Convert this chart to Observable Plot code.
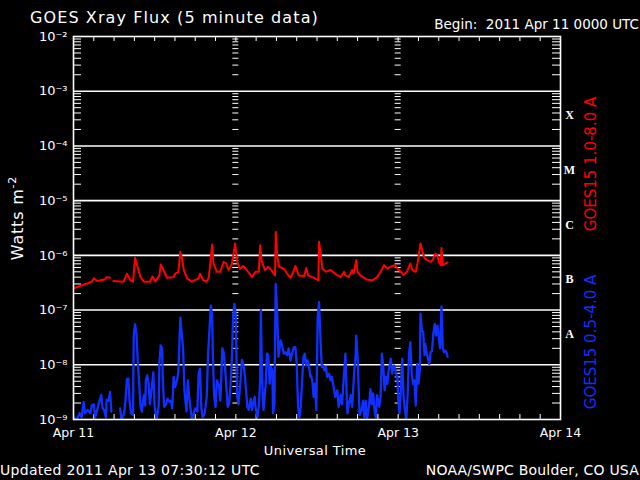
<!DOCTYPE html>
<html><head><meta charset="utf-8">
<script src="https://cdn.jsdelivr.net/npm/d3@7"></script>
<script src="https://cdn.jsdelivr.net/npm/@observablehq/plot@0.6"></script>
<style>html,body{margin:0;padding:0;background:#000;overflow:hidden} svg{display:block}</style>
</head><body><div id="chart"></div>
<script>
// Hours since 2011-04-11 00:00 UTC, flux in W m^-2 (null = data gap)
const redHours = [0.0,1.5,2.7,3.0,3.5,4.7,4.9,5.4,5.7,5.9,7.4,7.9,8.4,8.8,9.1,9.4,9.9,10.4,11.3,11.7,12.1,12.7,12.9,13.3,13.8,14.8,15.0,15.5,15.8,16.0,16.3,16.8,17.5,18.5,18.7,19.2,19.7,20.0,20.2,20.5,20.7,21.2,21.7,22.2,22.6,22.9,23.4,23.7,23.9,24.2,24.6,25.1,25.6,26.4,26.9,27.4,27.6,27.8,28.3,28.8,29.1,29.6,29.8,29.9,30.1,30.4,31.1,31.6,32.1,32.6,32.8,33.3,34.1,34.4,34.7,35.5,36.2,36.3,36.5,36.8,37.3,38.0,38.7,39.5,40.0,40.2,40.7,41.2,41.4,41.8,42.0,42.4,43.4,44.2,44.9,45.4,45.9,46.4,46.9,47.5,47.9,48.4,48.8,49.3,49.8,50.1,50.6,50.9,51.3,51.6,51.9,52.3,52.8,53.1,53.5,53.8,54.0,54.3,54.4,54.6,55.0,55.3];
const redFlux = [2.5e-7,2.9e-7,3.3e-7,3.8e-7,3.4e-7,3.65e-7,4.0e-7,3.9e-7,null,3.4e-7,3.3e-7,4.6e-7,3.5e-7,3.3e-7,9.0e-7,6.6e-7,4.0e-7,3.3e-7,3.3e-7,4.1e-7,3.3e-7,4.3e-7,6.8e-7,5.4e-7,3.9e-7,4.0e-7,4.6e-7,5.0e-7,1.16e-6,9.4e-7,5.4e-7,3.8e-7,3.3e-7,3.8e-7,4.6e-7,3.5e-7,3.3e-7,4.0e-7,6.6e-7,1.58e-6,7.1e-7,5.0e-7,5.0e-7,7.6e-7,7.1e-7,5.4e-7,6.8e-7,1.16e-6,1.64e-6,7.6e-7,5.7e-7,6.4e-7,5.4e-7,4.0e-7,5.0e-7,5.0e-7,1.53e-6,8.0e-7,5.4e-7,6.2e-7,5.7e-7,4.6e-7,4.3e-7,2.7e-6,1.0e-6,6.2e-7,5.7e-7,4.6e-7,3.9e-7,5.4e-7,6.4e-7,4.3e-7,4.2e-7,5.9e-7,4.3e-7,3.9e-7,3.5e-7,1.77e-6,1.2e-6,5.7e-7,5.0e-7,5.4e-7,4.6e-7,4.0e-7,5.0e-7,4.3e-7,4.0e-7,5.4e-7,4.6e-7,8.2e-7,5.0e-7,4.3e-7,3.6e-7,3.5e-7,4.0e-7,5.0e-7,6.6e-7,5.7e-7,6.2e-7,6.6e-7,5.7e-7,5.0e-7,4.4e-7,5.0e-7,7.1e-7,5.4e-7,5.0e-7,7.6e-7,1.64e-6,1.16e-6,8.8e-7,8.2e-7,7.6e-7,8.2e-7,1.08e-6,1.0e-6,7.6e-7,6.6e-7,1.37e-6,6.6e-7,7.1e-7,7.4e-7];

const blueHours = [0.0,0.5,0.9,1.2,1.5,1.7,2.1,2.5,2.7,3.0,3.2,3.5,3.8,4.1,4.3,4.5,4.8,4.9,5.2,5.4,5.6,6.0,6.9,7.1,7.5,7.7,7.9,8.1,8.3,8.5,8.8,8.9,9.1,9.3,9.5,9.7,9.9,10.1,10.4,10.6,10.7,10.9,11.1,11.3,11.6,11.8,12.0,12.3,12.6,12.7,12.9,13.1,13.2,13.4,13.7,13.9,14.2,14.4,14.6,14.8,15.0,15.3,15.5,15.8,16.0,16.2,16.4,16.7,16.9,17.1,17.3,17.5,18.0,18.3,18.5,18.7,18.9,19.1,19.4,19.7,19.9,20.1,20.3,20.5,20.6,20.8,21.0,21.2,21.5,21.7,21.8,22.0,22.2,22.4,22.6,22.8,23.0,23.2,23.4,23.6,23.8,24.0,24.2,24.4,24.7,24.9,25.2,25.4,25.7,25.9,26.2,26.4,26.6,26.8,26.9,27.2,27.4,27.6,27.7,27.8,28.0,28.1,28.4,28.6,28.8,29.0,29.2,29.4,29.5,29.7,29.9,30.1,30.3,30.4,30.6,30.9,31.1,31.3,31.6,31.8,32.1,32.3,32.6,32.8,33.0,33.2,33.4,33.6,33.8,34.0,34.2,34.4,34.6,34.8,35.0,35.1,35.3,35.5,35.7,35.9,36.1,36.3,36.5,36.7,36.9,37.1,37.3,37.5,37.8,38.0,38.2,38.5,38.7,39.0,39.2,39.5,39.7,40.0,40.2,40.4,40.5,40.7,41.0,41.2,41.5,41.7,41.8,42.0,42.2,42.3,42.6,42.8,43.0,43.2,43.4,43.7,43.9,44.1,44.3,44.5,44.7,44.9,45.2,45.4,45.6,45.8,46.0,46.2,46.4,46.6,46.9,47.1,47.4,47.6,47.9,48.0,48.2,48.4,48.6,48.8,49.0,49.2,49.4,49.6,49.8,50.0,50.2,50.4,50.6,50.8,51.0,51.2,51.3,51.5,51.7,51.9,52.0,52.2,52.4,52.6,52.8,53.0,53.2,53.4,53.6,53.8,54.0,54.2,54.4,54.6,54.8,55.0,55.2,55.3];
const blueFlux = [1.1e-9,1.0e-9,1.3e-9,1.1e-9,2.1e-9,1.3e-9,1.5e-9,1.3e-9,1.8e-9,1.9e-9,1.1e-9,1.5e-9,2.1e-9,2.8e-9,1.6e-9,1.5e-9,1.1e-9,2.3e-9,2.2e-9,3.2e-9,1.4e-9,null,1.6e-9,1.0e-9,1.3e-9,2.4e-9,5.5e-9,5.6e-9,2.1e-9,1.3e-9,1.2e-9,3.4e-8,5.5e-8,3.7e-8,1.2e-8,4.8e-9,1.8e-9,1.4e-9,2.8e-9,1.8e-9,5.3e-9,6.4e-9,4.5e-9,1.9e-9,4.2e-9,7.3e-9,1.7e-9,1.0e-9,1.8e-9,1.1e-8,2.25e-8,2.0e-8,5.5e-9,1.7e-9,1.9e-9,2.4e-9,2.1e-9,2.2e-9,1.6e-9,6.0e-9,3.9e-9,5.2e-9,7.3e-9,7.3e-8,3.7e-8,2.0e-8,3.4e-9,1.4e-9,5.2e-9,2.6e-9,1.6e-9,1.0e-9,1.6e-9,1.4e-9,6.9e-9,8.5e-9,1.6e-9,1.1e-9,1.3e-9,2.6e-9,1.6e-8,4.2e-8,1.2e-7,8.0e-8,1.6e-8,2.6e-9,1.7e-9,5.2e-9,4.2e-9,2.2e-9,3.9e-9,2.0e-8,1.7e-8,9.1e-9,3.9e-9,1.7e-9,1.9e-9,3.9e-9,1.2e-8,7.4e-8,1.3e-7,7.4e-8,2.6e-9,1.9e-9,5.2e-9,1.23e-8,9.1e-9,5.2e-9,1.7e-9,1.5e-9,2.4e-9,1.5e-9,2.1e-9,2.6e-9,1.7e-9,1.1e-9,1.8e-9,5.2e-9,1.0e-7,1.6e-8,2.2e-9,1.5e-9,4.2e-9,1.6e-8,1.5e-8,4.5e-9,9.1e-9,7.9e-9,1.3e-9,1.9e-9,3.0e-7,9.8e-8,1.4e-8,1.7e-8,2.8e-8,2.1e-8,1.6e-8,1.7e-8,1.5e-8,2.0e-8,1.2e-8,1.6e-8,2.1e-8,2.1e-8,1.04e-8,1.7e-9,1.1e-9,1.7e-9,5.2e-9,1.4e-8,1.6e-8,9.7e-9,1.2e-8,1.04e-8,6.0e-9,6.4e-9,5.2e-9,2.6e-9,4.5e-9,1.5e-9,7.4e-8,1.4e-7,3.2e-8,9.1e-9,9.7e-9,7.9e-9,9.1e-9,6.0e-9,6.9e-9,5.2e-9,6.0e-9,3.6e-9,2.6e-9,3.4e-9,1.7e-9,2.8e-9,1.9e-9,6.9e-9,1.6e-8,2.6e-9,1.3e-9,1.9e-9,2.8e-9,1.7e-9,7.3e-9,1.4e-8,3.4e-8,1.4e-8,2.6e-9,1.2e-9,1.5e-9,2.2e-9,1.1e-9,2.2e-9,1.0e-9,1.8e-9,3.6e-9,1.9e-9,3.0e-9,1.5e-9,1.1e-9,2.8e-9,1.7e-9,2.6e-9,1.6e-8,9.1e-9,3.4e-9,6.0e-9,4.5e-9,7.9e-9,1.3e-8,6.9e-9,9.7e-9,7.9e-9,5.5e-9,2.4e-9,1.3e-9,3.4e-9,1.3e-8,2.6e-9,1.5e-9,1.0e-9,2.8e-9,1.6e-8,2.6e-8,6.9e-9,4.5e-9,5.2e-9,1.8e-9,1.04e-8,4.5e-9,7.9e-9,8.6e-8,4.2e-8,4.0e-8,1.5e-8,2.4e-8,1.7e-8,1.3e-8,1.04e-8,1.7e-8,1.8e-8,3.7e-8,5.6e-8,3.4e-8,5.2e-8,3.2e-8,2.0e-8,1.16e-7,2.0e-8,1.7e-8,1.8e-8,1.6e-8,1.4e-8];

const decades = [1e-9,1e-8,1e-7,1e-6,1e-5,1e-4,1e-3,1e-2];
const dayTicks = ["2011-04-11","2011-04-12","2011-04-13","2011-04-14"];
const flareClasses = ["A","B","C","M","X"];
const flareLevels = [3.6e-8,3.6e-7,3.6e-6,3.6e-5,3.6e-4];
const titleText = "GOES Xray Flux (5 minute data)";
const beginText = "Begin:  2011 Apr 11 0000 UTC";
const yLabelText = "Watts m";
const xLabelText = "Universal Time";
const updatedText = "Updated 2011 Apr 13 07:30:12 UTC";
const creditText = "NOAA/SWPC Boulder, CO USA";
const redLabel = "GOES15 1.0-8.0 A";
const blueLabel = "GOES15 0.5-4.0 A";

const RED = "#ff0000", BLUE = "#1030ff";
const t0 = Date.UTC(2011, 3, 11);
const toDate = h => new Date(t0 + h * 3600e3);
const red = redHours.map((h, i) => ({date: toDate(h), flux: redFlux[i]}));
const blue = blueHours.map((h, i) => ({date: toDate(h), flux: blueFlux[i]}));
const days = dayTicks.map(d => new Date(d + "T00:00:00Z"));

const W = 640, H = 480, mL = 73, mR = 80, mT = 36, mB = 61;
const pw = W - mL - mR, ph = H - mT - mB;

const minors = [];
decades.slice(0, -1).forEach(d => { for (let m = 2; m <= 9; m++) minors.push(d * m); });
const crossTicks = [];
days.slice(1, 3).forEach(day => minors.forEach(v => crossTicks.push({day, v})));
const hourTicks = d3.utcHour.every(3).range(days[0], days[3]).slice(1);

const sup = {"-": "\u207B", "0": "\u2070", "1": "\u00B9", "2": "\u00B2", "3": "\u00B3", "4": "\u2074", "5": "\u2075", "6": "\u2076", "7": "\u2077", "8": "\u2078", "9": "\u2079"};
const fmtPow = d => "10" + String(Math.round(Math.log10(d))).replace(/./g, c => sup[c]);

const plot = Plot.plot({
  width: W, height: H,
  marginLeft: mL, marginRight: mR, marginTop: mT, marginBottom: mB,
  style: {background: "#000", color: "#fff", fontFamily: "DejaVu Sans, sans-serif"},
  x: {type: "utc", domain: [days[0], days[3]]},
  y: {type: "log", domain: [1e-9, 1e-2]},
  marks: [
    Plot.ruleY(decades.slice(1, -1), {stroke: "#fff", strokeWidth: 1.6}),
    Plot.ruleY(minors, {stroke: "#fff", insetRight: pw - 8}),
    Plot.ruleY(minors, {stroke: "#fff", insetLeft: pw - 8}),
    Plot.ruleY(crossTicks, {y: "v", x1: "day", x2: "day", insetLeft: -3, insetRight: -3, stroke: "#fff"}),
    Plot.ruleX(hourTicks, {stroke: "#fff", insetTop: ph - 5}),
    Plot.ruleX(hourTicks, {stroke: "#fff", insetBottom: ph - 5}),
    Plot.line(red, {x: "date", y: "flux", stroke: RED, strokeWidth: 2, clip: true}),
    Plot.line(blue, {x: "date", y: "flux", stroke: BLUE, strokeWidth: 2.3, clip: true}),
    Plot.frame({stroke: "#fff", strokeWidth: 1.6}),
    Plot.axisY({ticks: decades, tickSize: 0, tickPadding: 6, tickFormat: fmtPow, label: null, fontSize: 13, fill: "#fff"}),
    Plot.axisX({ticks: days, tickSize: 0, tickPadding: 9, tickFormat: d3.utcFormat("%b %-d"), label: null, fontSize: 12.5, fill: "#fff"}),
    Plot.text(flareClasses, {x: () => days[3], y: (d, i) => flareLevels[i], text: d => d, dx: 9, fill: "#fff", fontFamily: "Liberation Serif, serif", fontWeight: "bold", fontSize: 12})
  ]
});
document.getElementById("chart").append(plot);

const svg = d3.select(plot);
function txt(x, y, s, o = {}) {
  const t = svg.append("text").attr("x", x).attr("y", y).text(s)
    .attr("fill", o.fill || "#fff").attr("font-size", o.size || 13)
    .attr("font-family", "DejaVu Sans, sans-serif")
    .attr("text-anchor", o.anchor || "start");
  if (o.ls) t.attr("letter-spacing", o.ls);
  if (o.rot) t.attr("x", 0).attr("y", 0).attr("transform", `translate(${x},${y}) rotate(-90)`);
  return t;
}
txt(30, 23, titleText, {size: 16, ls: 1.1});
txt(639, 29, beginText, {size: 13.5, anchor: "end"});
const yl = txt(23, 218, yLabelText, {size: 16, anchor: "middle", rot: true, ls: 0.8});
yl.append("tspan").attr("dy", -7).attr("font-size", 11).text("-2");
txt(315, 455, xLabelText, {size: 13, anchor: "middle", ls: 0.4});
txt(0, 475, updatedText, {size: 14, ls: 0.3});
txt(639, 475, creditText, {size: 14, anchor: "end", ls: 0.2});
txt(596, 164, redLabel, {size: 15, anchor: "middle", rot: true, fill: RED});
txt(596, 342, blueLabel, {size: 15, anchor: "middle", rot: true, fill: BLUE});
</script></body></html>
